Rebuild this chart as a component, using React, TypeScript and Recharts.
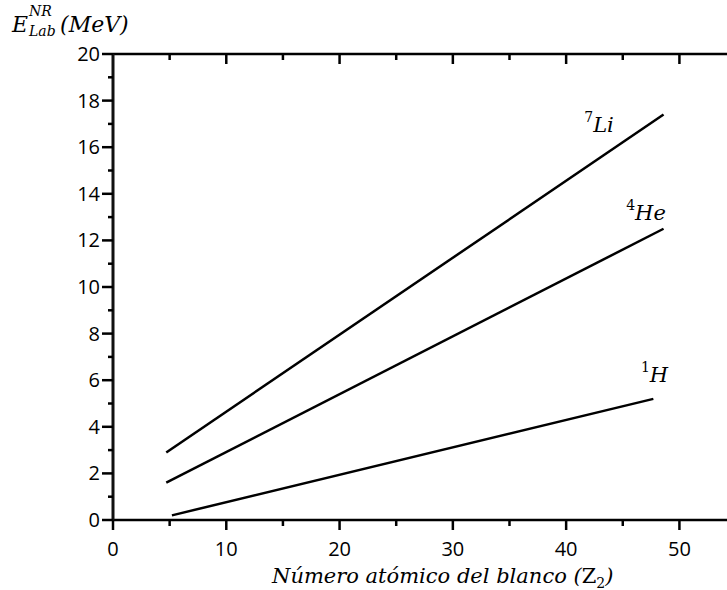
import React from 'react';
import { LineChart, Line, XAxis, YAxis, ReferenceDot } from 'recharts';

const xTicks = [0, 5, 10, 15, 20, 25, 30, 35, 40, 45, 50];
const yTicks = [0, 1, 2, 3, 4, 5, 6, 7, 8, 9, 10, 11, 12, 13, 14, 15, 16, 17, 18, 19, 20];

const li7 = [{ x: 4.7, y: 2.9 }, { x: 48.6, y: 17.4 }];
const he4 = [{ x: 4.7, y: 1.6 }, { x: 48.6, y: 12.5 }];
const h1 = [{ x: 5.2, y: 0.2 }, { x: 47.7, y: 5.2 }];

const seriesLabels = [
  { sup: '7', base: 'Li', x: 41.6, y: 16.65 },
  { sup: '4', base: 'He', x: 45.3, y: 12.88 },
  { sup: '1', base: 'H', x: 46.6, y: 5.92 },
];

const mathFont = '"DejaVu Serif", serif';
const tickFont = '"Open Sans", sans-serif';
const tickText = { fontFamily: tickFont, fontSize: 20, fill: '#000' };

const BottomTick = (props: any) => {
  const { x, y, payload } = props;
  const major = payload.value % 10 === 0;
  return (
    <g>
      <line x1={x} x2={x} y1={y} y2={y + (major ? 10 : 6)} stroke="#000" strokeWidth={2.5} />
      {major && (
        <text x={x} y={y + 36} textAnchor="middle" style={tickText}>
          {payload.value}
        </text>
      )}
    </g>
  );
};

const TopTick = (props: any) => {
  const { x, y, payload } = props;
  const major = payload.value % 10 === 0;
  if (payload.value === 0) return <g />;
  return <line x1={x} x2={x} y1={y} y2={y + (major ? 10 : 6)} stroke="#000" strokeWidth={2.5} />;
};

const LeftTick = (props: any) => {
  const { x, y, payload } = props;
  const major = payload.value % 2 === 0;
  return (
    <g>
      <line x1={x} x2={x - (major ? 11 : 5)} y1={y} y2={y} stroke="#000" strokeWidth={2.5} />
      {major && (
        <text x={x - 13} y={y + 7} textAnchor="end" style={tickText}>
          {payload.value}
        </text>
      )}
    </g>
  );
};

const isoLabel = (sup: string, base: string) => (props: any) => {
  const { viewBox } = props;
  const cx = viewBox.x + viewBox.width / 2;
  const cy = viewBox.y + viewBox.height / 2;
  return (
    <text x={cx} y={cy} fontFamily={mathFont} fontStyle="italic" fill="#000">
      <tspan fontSize={14} dy={-10} fontStyle="normal">{sup}</tspan>
      <tspan fontSize={21} dy={10}>{base}</tspan>
    </text>
  );
};

export default function App() {
  return (
    <div style={{ position: 'absolute', left: 0, top: 0, width: 727, height: 590, background: '#fff' }}>
      <LineChart width={727} height={590} margin={{ top: 0, right: 0, bottom: 0, left: 0 }}>
        <XAxis
          xAxisId={0}
          dataKey="x"
          type="number"
          domain={[0, 54.2]}
          allowDataOverflow
          ticks={xTicks}
          interval={0}
          height={70}
          tickSize={0}
          tickMargin={0}
          tickLine={false}
          tick={(p: any) => <BottomTick {...p} />}
          axisLine={{ stroke: '#000', strokeWidth: 2.5 }}
        />
        <XAxis
          xAxisId="top"
          orientation="top"
          dataKey="x"
          type="number"
          domain={[0, 54.2]}
          allowDataOverflow
          ticks={xTicks}
          interval={0}
          height={54}
          tickSize={0}
          tickMargin={0}
          tickLine={false}
          tick={(p: any) => <TopTick {...p} />}
          axisLine={{ stroke: '#000', strokeWidth: 2.5 }}
        />
        <YAxis
          type="number"
          domain={[0, 20]}
          ticks={yTicks}
          interval={0}
          width={113}
          tickSize={0}
          tickMargin={0}
          tickLine={false}
          tick={(p: any) => <LeftTick {...p} />}
          axisLine={{ stroke: '#111', strokeWidth: 3 }}
        />
        <Line data={li7} dataKey="y" stroke="#000" strokeWidth={2.5} dot={false} isAnimationActive={false} />
        <Line data={he4} dataKey="y" stroke="#000" strokeWidth={2.5} dot={false} isAnimationActive={false} />
        <Line data={h1} dataKey="y" stroke="#000" strokeWidth={2.5} dot={false} isAnimationActive={false} />
        {seriesLabels.map((s) => (
          <ReferenceDot
            key={s.base}
            x={s.x}
            y={s.y}
            r={0}
            fill="none"
            stroke="none"
            label={isoLabel(s.sup, s.base)}
          />
        ))}
      </LineChart>
      <div
        style={{
          position: 'absolute',
          left: 12,
          top: 6,
          fontFamily: mathFont,
          fontStyle: 'italic',
          fontSize: 22,
          color: '#000',
          whiteSpace: 'nowrap',
          lineHeight: 1,
        }}
      >
        <span style={{ position: 'relative', top: 8 }}>E</span>
        <span style={{ display: 'inline-block', position: 'relative', width: 30, height: 20, verticalAlign: 'top' }}>
          <span style={{ position: 'absolute', left: 1, top: -2, fontSize: 14 }}>NR</span>
          <span style={{ position: 'absolute', left: 1, top: 18, fontSize: 14 }}>Lab</span>
        </span>
        <span style={{ position: 'relative', top: 8, marginLeft: 2 }}>(MeV)</span>
      </div>
      <div
        style={{
          position: 'absolute',
          left: 272,
          top: 566,
          fontFamily: mathFont,
          fontStyle: 'italic',
          fontSize: 21,
          color: '#000',
          whiteSpace: 'nowrap',
          lineHeight: 1,
        }}
      >
        Número atómico del blanco (<span style={{ fontStyle: 'normal' }}>Z</span>
        <span style={{ fontStyle: 'normal', fontSize: 14, position: 'relative', top: 5 }}>2</span>)
      </div>
    </div>
  );
}
